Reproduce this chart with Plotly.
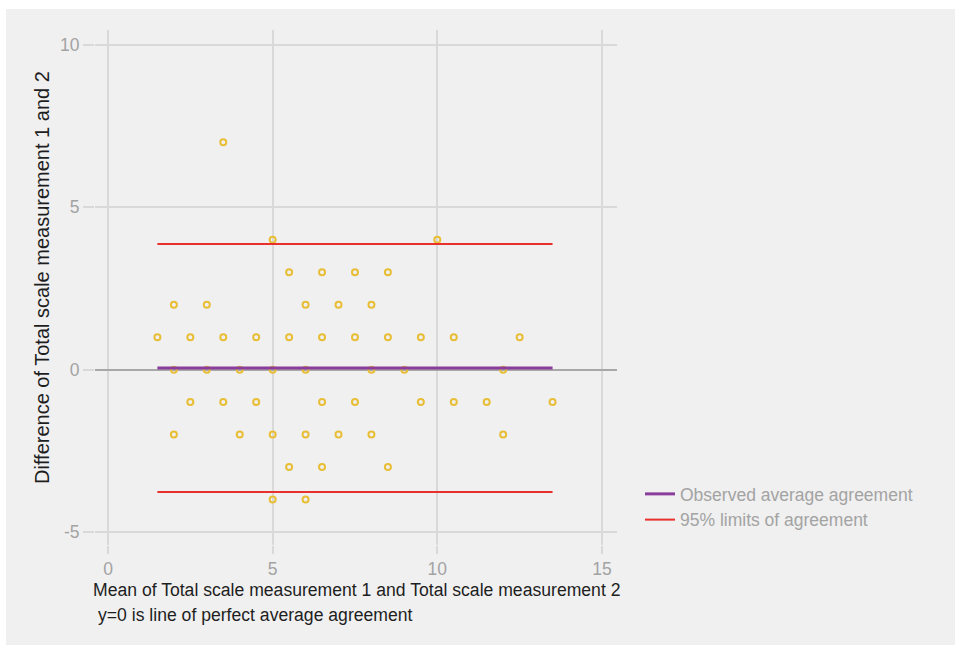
import plotly.graph_objects as go

# Bland-Altman data: mean of the two measurements (x) and their difference (y)
mean_vals = [3.5,
             5, 10,
             5.5, 6.5, 7.5, 8.5,
             2, 3, 6, 7, 8,
             1.5, 2.5, 3.5, 4.5, 5.5, 6.5, 7.5, 8.5, 9.5, 10.5, 12.5,
             2, 3, 4, 5, 6, 8, 9, 12,
             2.5, 3.5, 4.5, 6.5, 7.5, 9.5, 10.5, 11.5, 13.5,
             2, 4, 5, 6, 7, 8, 12,
             5.5, 6.5, 8.5,
             5, 6]
diff_vals = [7,
             4, 4,
             3, 3, 3, 3,
             2, 2, 2, 2, 2,
             1, 1, 1, 1, 1, 1, 1, 1, 1, 1, 1,
             0, 0, 0, 0, 0, 0, 0, 0,
             -1, -1, -1, -1, -1, -1, -1, -1, -1,
             -2, -2, -2, -2, -2, -2, -2,
             -3, -3, -3,
             -4, -4]

bias = 0.05
upper_loa = 3.87
lower_loa = -3.77

x_ticks = [0, 5, 10, 15]
y_ticks = [-5, 0, 5, 10]

x_title = "Mean of Total scale measurement 1 and Total scale measurement 2"
y_title = "Difference of Total scale measurement 1 and 2"
caption = "y=0 is line of perfect average agreement"

x_lo, x_hi = min(mean_vals), max(mean_vals)

FAMILY = "Liberation Sans, Arial, sans-serif"
BG = "#f0f0f0"
GRID = "#d9d9d9"
INK = "#1e1e1e"
TICK_FONT = dict(family=FAMILY, size=17.5, color="#a3a3a3")

# plot-area geometry in pixels (used to place titles in paper units)
L, R, T, B = 95, 617, 30, 545
W, H = R - L, B - T


def px_x(p):
    return (p - L) / W


def px_y(p):
    return (B - p) / H


fig = go.Figure()

fig.add_trace(go.Scatter(
    x=mean_vals, y=diff_vals, mode="markers",
    marker=dict(symbol="circle-open", size=6, color="#e8be37", line=dict(width=2)),
    showlegend=False, hoverinfo="x+y",
))

fig.add_trace(go.Scatter(
    x=[x_lo, x_hi], y=[bias, bias], mode="lines",
    line=dict(color="#8a3d9c", width=3),
    name="Observed average agreement",
))

fig.add_trace(go.Scatter(
    x=[x_lo, x_hi, None, x_lo, x_hi],
    y=[upper_loa, upper_loa, None, lower_loa, lower_loa],
    mode="lines",
    line=dict(color="#e8302c", width=2),
    name="95% limits of agreement",
))

# grey panel behind everything, leaving a thin white strip at top and left
fig.add_shape(type="rect", xref="paper", yref="paper",
              x0=px_x(6), x1=px_x(955), y0=px_y(645), y1=px_y(9),
              fillcolor=BG, line=dict(width=0), layer="below")

fig.update_xaxes(
    range=[-0.395, 15.457], tickvals=x_ticks, ticktext=[str(v) for v in x_ticks],
    showgrid=True, gridcolor=GRID, gridwidth=1.5, zeroline=False,
    ticks="outside", ticklen=8, tickcolor=GRID, tickwidth=1.5,
    tickfont=TICK_FONT, showline=False, ticklabelstandoff=0,
)
fig.update_yaxes(
    range=[-5.40, 10.46], tickvals=y_ticks, ticktext=[str(v) for v in y_ticks],
    showgrid=True, gridcolor=GRID, gridwidth=1.5,
    zeroline=True, zerolinecolor="#a8a8a8", zerolinewidth=1.5,
    ticks="outside", ticklen=11, tickcolor=GRID, tickwidth=1.5,
    tickfont=TICK_FONT, showline=False,
)

fig.add_annotation(
    text=x_title, xref="paper", yref="paper", x=px_x(356), y=px_y(590),
    xanchor="center", yanchor="middle", showarrow=False,
    font=dict(family=FAMILY, size=17.6, color=INK),
)
fig.add_annotation(
    text=y_title, xref="paper", yref="paper", x=px_x(42), y=px_y(278),
    xanchor="center", yanchor="middle", showarrow=False, textangle=-90,
    font=dict(family=FAMILY, size=20, color=INK),
)
fig.add_annotation(
    text=caption, xref="paper", yref="paper", x=px_x(96), y=px_y(615),
    xanchor="left", yanchor="middle", showarrow=False,
    font=dict(family=FAMILY, size=17.6, color=INK),
)

fig.update_layout(
    width=955, height=645,
    margin=dict(l=L, r=955 - R, t=T, b=645 - B),
    paper_bgcolor="white", plot_bgcolor="rgba(0,0,0,0)",
    legend=dict(x=px_x(640), y=px_y(476), xanchor="left", yanchor="top",
                bgcolor="rgba(0,0,0,0)", font=TICK_FONT, tracegroupgap=0,
                itemwidth=30),
)

fig.write_html("out.html")
